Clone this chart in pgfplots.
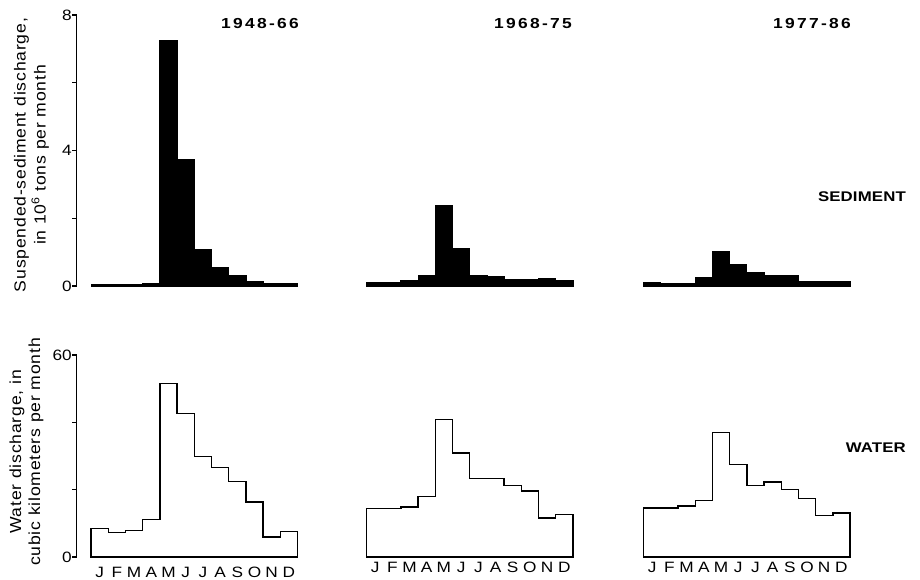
\documentclass[border=0pt]{standalone}
\usepackage{fontspec}
\usepackage{pgfplots}
\usepackage{pgfplotstable}
\pgfplotsset{compat=1.18}
\setmainfont{Liberation Sans}[FakeStretch=1.15]
\newfontfamily\labfont{Liberation Sans}[FakeStretch=1.1, LetterSpace=5]
\newfontfamily\yrfont{Liberation Sans}[FakeStretch=1.2, LetterSpace=16]
\newfontfamily\ttlfont{Liberation Sans}[FakeStretch=1.2, LetterSpace=1]

% month index, sediment (10^6 t/month) for 1948-66, 1968-75, 1977-86
\pgfplotstableread{
x  s1    s2    s3
0  0.03  0.11  0.10
1  0.03  0.11  0.08
2  0.03  0.16  0.08
3  0.08  0.32  0.25
4  7.24  2.38  1.03
5  3.72  1.11  0.62
6  1.06  0.32  0.40
7  0.55  0.29  0.32
8  0.30  0.20  0.32
9  0.13  0.20  0.12
10 0.06  0.23  0.12
11 0.06  0.15  0.12
12 0.06  0.15  0.12
}\sed
% water discharge (km^3/month)
\pgfplotstableread{
x  w1    w2    w3
0  8.5   14.4  14.6
1  7.2   14.4  14.6
2  7.9   14.9  15.2
3  11.2  18.0  16.8
4  51.5  40.9  37.0
5  42.7  30.9  27.4
6  29.8  23.4  21.3
7  26.5  23.4  22.3
8  22.5  21.3  20.0
9  16.3  19.6  17.3
10 6.0   11.6  12.3
11 7.5   12.7  13.1
12 7.5   12.7  13.1
}\wat

\pgfplotsset{
  panel/.style={scale only axis, width=221pt, xmin=-0.85, xmax=12, clip=false,
    anchor=south west,
    /pgf/number format/assume math mode=true,
    tick label style={font=\fontsize{15}{17}\selectfont},
    axis line style={line width=1.3pt},
    every tick/.style={line width=1.2pt, black},
    major tick length=4.5pt, minor tick length=4.5pt},
  sedpanel/.style={panel, height=271pt, ymin=0, ymax=8},
  watpanel/.style={panel, height=202pt, ymin=0, ymax=60,
    xtick={0.5,1.5,...,11.5},
    xticklabels={J,F,M,A,M,J,J,A,S,O,N,D},
    xtick style={draw=none},
    xticklabel style={anchor=north, inner sep=0pt, yshift=-5pt}},
  leftaxis/.style={axis y line*=left, tick align=outside, ytick pos=left,
    yticklabel style={anchor=east, inner sep=0pt}},
  sedbar/.style={fill=black, draw=black, line width=1.2pt, const plot mark left},
  watline/.style={draw=black, line width=1.4pt, const plot mark left},
}

\begin{document}
\begin{tikzpicture}
\useasboundingbox (0pt,0pt) rectangle (920pt,579pt);

% ---------- sediment row ----------
\begin{axis}[sedpanel, leftaxis, at={(76.5pt,293pt)}, axis x line=none,
  ytick={0,4,8}, minor ytick={2,6}]
\addplot[sedbar] table[x=x,y=s1]{\sed} \closedcycle;
\end{axis}
\begin{axis}[sedpanel, hide axis, at={(351.9pt,293pt)}]
\addplot[sedbar] table[x=x,y=s2]{\sed} \closedcycle;
\end{axis}
\begin{axis}[sedpanel, hide axis, at={(629.0pt,293pt)}]
\addplot[sedbar] table[x=x,y=s3]{\sed} \closedcycle;
\end{axis}

% ---------- water row ----------
\begin{axis}[watpanel, leftaxis, at={(76.5pt,22pt)},
  axis x line*=bottom, x axis line style={draw=none},
  ytick={0,60}, minor ytick={20,40}]
\addplot[watline] table[x=x,y=w1]{\wat} \closedcycle;
\end{axis}
\begin{axis}[watpanel, at={(351.9pt,22pt)}, axis y line=none,
  axis x line*=bottom, x axis line style={draw=none}]
\addplot[watline] table[x=x,y=w2]{\wat} \closedcycle;
\end{axis}
\begin{axis}[watpanel, at={(629.0pt,22pt)}, axis y line=none,
  axis x line*=bottom, x axis line style={draw=none}]
\addplot[watline] table[x=x,y=w3]{\wat} \closedcycle;
\end{axis}

% ---------- titles and labels ----------
\begin{scope}[every node/.style={inner sep=0pt}]
\begin{scope}[every node/.append style={font=\yrfont\bfseries\fontsize{14.5}{17}\selectfont}]
\node at (260pt,555.5pt) {1948-66};
\node at (533pt,555.5pt) {1968-75};
\node at (812pt,555.5pt) {1977-86};
\end{scope}
\node[anchor=east, font=\ttlfont\bfseries\fontsize{14}{17}\selectfont] at (906pt,382pt) {SEDIMENT};
\node[anchor=east, font=\ttlfont\bfseries\fontsize{14}{17}\selectfont] at (906pt,131pt) {WATER};
\node[rotate=90, align=center, font=\labfont\fontsize{16}{20}\selectfont] at (31.5pt,424pt)
  {Suspended-sediment discharge,\\ in 10\textsuperscript{6} tons per month};
\node[rotate=90, align=center, font=\labfont\fontsize{16}{19}\selectfont] at (26.5pt,127pt)
  {Water discharge, in\\ cubic kilometers per month};
\end{scope}
\end{tikzpicture}
\end{document}
